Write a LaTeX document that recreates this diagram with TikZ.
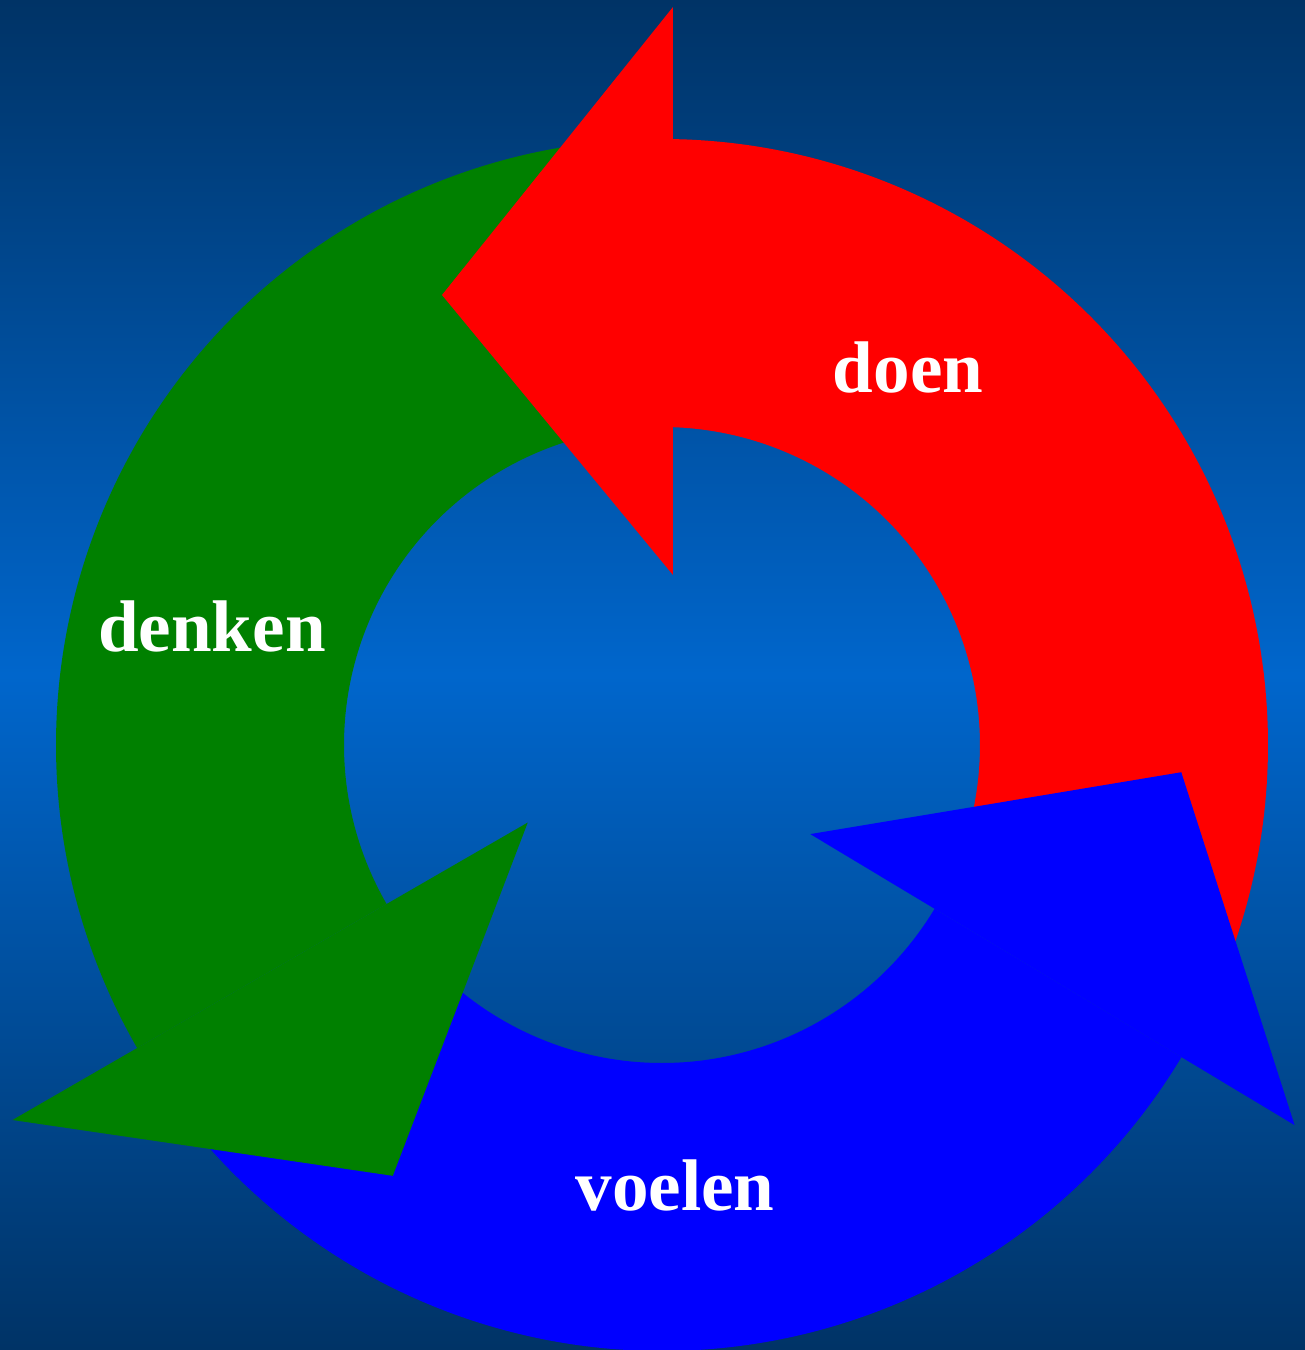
\documentclass[tikz,border=0pt]{standalone}
\usepackage{fontspec}
\setmainfont{Liberation Serif}

\definecolor{bgdark}{RGB}{0,51,102}
\definecolor{bglight}{RGB}{0,102,204}
\definecolor{doenred}{RGB}{255,0,0}
\definecolor{denkengreen}{RGB}{0,128,0}
\definecolor{voelenblue}{RGB}{0,0,255}

\begin{document}
\begin{tikzpicture}[
  font=\bfseries\fontsize{20.8}{25}\selectfont,
  % Estilos de los brazos
  doenarm/.style={fill=doenred},
  denkenarm/.style={fill=denkengreen},
  voelenarm/.style={fill=voelenblue},
  % Estilo de las etiquetas
  armlabel/.style={text=white, anchor=base, inner sep=0pt}
]

  % ==========================================
  % BACKGROUND
  % ==========================================
  \shade[top color=bgdark, bottom color=bgdark, middle color=bglight]
    (-6.62,-6.05) rectangle (6.43,7.45);
  \useasboundingbox (-6.62,-6.05) rectangle (6.43,7.45);

  % ==========================================
  % ARM BODIES (ring segments)
  % ==========================================
  \fill[doenarm] (-25:6.06) arc[start angle=-25, end angle=89, radius=6.06]
    -- (88:3.18) arc[start angle=88, end angle=-25, radius=3.18] -- cycle;
  \fill[denkenarm] (95:6.06) arc[start angle=95, end angle=210, radius=6.06]
    -- (210:3.18) arc[start angle=210, end angle=95, radius=3.18] -- cycle;
  \fill[voelenarm] (215:6.06) arc[start angle=215, end angle=329, radius=6.06]
    -- (329:3.18) arc[start angle=329, end angle=215, radius=3.18] -- cycle;

  % ==========================================
  % ARROW HEADS (on top of the next tail)
  % ==========================================
  \fill[doenarm] (0.11,1.70) -- (-2.20,4.50) -- (0.11,7.38) -- cycle;
  \fill[denkenarm] (210:1.55) -- (238:5.08) -- (210:7.50) -- cycle;
  \fill[voelenarm] (329:1.73) -- (357:5.20) -- (329:7.38) -- cycle;

  % ==========================================
  % LABELS
  % ==========================================
  \node[armlabel] (doen) at (2.46,3.53) {doen};
  \node[armlabel] (denken) at (-4.50,0.94) {denken};
  \node[armlabel] (voelen) at (0.13,-4.65) {voelen};

\end{tikzpicture}
\end{document}
